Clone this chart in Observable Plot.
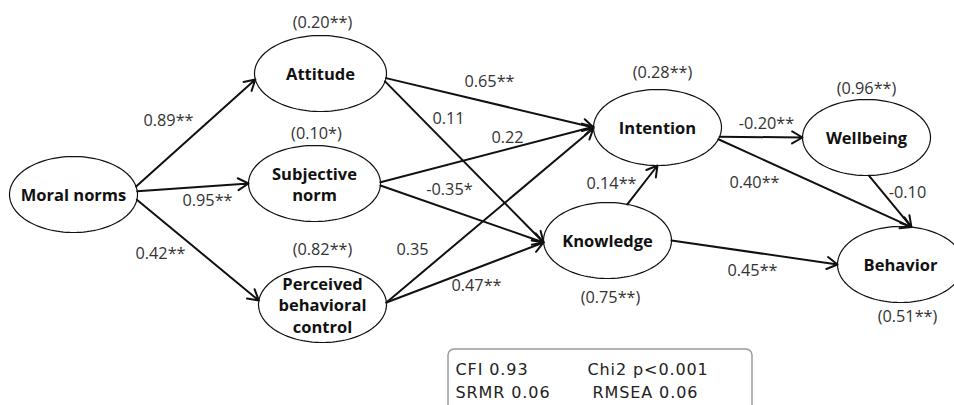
<!DOCTYPE html>
<html>
<head>
<meta charset="utf-8">
<script src="https://cdn.jsdelivr.net/npm/d3@7"></script>
<script src="https://cdn.jsdelivr.net/npm/@observablehq/plot@0.6"></script>
<style>
  html, body { margin: 0; padding: 0; background: #fff; }
  #chart svg { display: block; }
</style>
</head>
<body>
<div id="chart"></div>
<script>
// ---------------- DATA ----------------
const nodes = ["Moral norms", "Attitude", "Subjective norm", "Perceived behavioral control",
               "Intention", "Knowledge", "Wellbeing", "Behavior"];
const nodeLabels = ["Moral norms", "Attitude", "Subjective\nnorm", "Perceived\nbehavioral\ncontrol",
                    "Intention", "Knowledge", "Wellbeing", "Behavior"];
const r2Labels = ["", "(0.20**)", "(0.10*)", "(0.82**)", "(0.28**)", "(0.75**)", "(0.96**)", "(0.51**)"];

const pathFrom = ["Moral norms", "Moral norms", "Moral norms",
                  "Attitude", "Attitude", "Subjective norm", "Subjective norm",
                  "Perceived behavioral control", "Perceived behavioral control",
                  "Knowledge", "Intention", "Intention", "Wellbeing", "Knowledge"];
const pathTo = ["Attitude", "Subjective norm", "Perceived behavioral control",
                "Intention", "Knowledge", "Intention", "Knowledge",
                "Intention", "Knowledge",
                "Intention", "Wellbeing", "Behavior", "Behavior", "Behavior"];
const pathCoef = ["0.89**", "0.95**", "0.42**",
                  "0.65**", "0.11", "0.22", "-0.35*",
                  "0.35", "0.47**",
                  "0.14**", "-0.20**", "0.40**", "-0.10", "0.45**"];

const fitLabels = ["CFI 0.93", "Chi2 p<0.001", "SRMR 0.06", "RMSEA 0.06"];

// ---------------- LAYOUT (diagram geometry, pixels) ----------------
const nodeCenter = {
  "Moral norms": [73, 194, 64, 38],
  "Attitude": [320, 73, 66, 38],
  "Subjective norm": [314, 183, 66, 38],
  "Perceived behavioral control": [322, 304, 64, 38],
  "Intention": [657, 127, 64, 38],
  "Knowledge": [607, 240, 64, 38],
  "Wellbeing": [866, 137, 64, 38],
  "Behavior": [900, 264, 63, 38]
};
const r2Pos = [null, [322, 22], [316, 133], [322, 249], [662, 72], [610, 297], [866, 88], [907, 316]];
// anchor angles on the ellipses (degrees, y down) for start / end of each path
const pathPorts = [[-12, 171], [-5, 180], [8, 186],
                   [7, 180], [12, 177], [-2, 181], [3, 177],
                   [-3, 179], [-3, 177],
                   [-72, 90], [14, 180], [18, -80], [88, -80], [0, 180]];
const coefPos = [[168, 120], [207, 200], [160, 253],
                 [489, 81], [448, 118], [507, 137], [449, 189],
                 [412, 249], [476, 285],
                 [611, 183], [766, 123], [754, 182], [907, 192], [752, 270]];
const fitPos = [[455, 369], [587, 369], [455, 392], [592, 392]];
const fitBox = {x1: 448, x2: 752, y1: 349, y2: 420};

// ---------------- BUILD ----------------
function port(name, deg) {
  const [cx, cy, rx, ry] = nodeCenter[name];
  const a = deg * Math.PI / 180;
  return [cx + rx * Math.cos(a), cy + ry * Math.sin(a)];
}
const ellipsePts = [];
nodes.forEach(n => {
  const [cx, cy, rx, ry] = nodeCenter[n];
  for (let i = 0; i < 120; i++) {
    const a = i / 120 * 2 * Math.PI;
    ellipsePts.push({node: n, x: cx + rx * Math.cos(a), y: cy + ry * Math.sin(a)});
  }
});
const edges = pathFrom.map((f, i) => {
  const [x1, y1] = port(f, pathPorts[i][0]);
  const [x2, y2] = port(pathTo[i], pathPorts[i][1]);
  return {x1, y1, x2, y2, coef: pathCoef[i], lx: coefPos[i][0], ly: coefPos[i][1]};
});
const nodeTable = nodes.map((n, i) => ({name: n, label: nodeLabels[i],
  x: nodeCenter[n][0], y: nodeCenter[n][1]}));
const r2Table = nodes.map((n, i) => ({label: r2Labels[i], pos: r2Pos[i]})).filter(d => d.pos)
  .map(d => ({label: d.label, x: d.pos[0], y: d.pos[1]}));
const fitTable = fitLabels.map((t, i) => ({label: t, x: fitPos[i][0], y: fitPos[i][1]}));

const chart = Plot.plot({
  width: 954,
  height: 405,
  margin: 0,
  x: {domain: [0, 954], range: [0, 954], axis: null},
  y: {domain: [0, 405], range: [0, 405], axis: null},
  style: {background: "#fff"},
  marks: [
    Plot.rect([fitBox], {x1: "x1", x2: "x2", y1: "y1", y2: "y2", rx: 6, fill: "white", stroke: "#9a9a9a", strokeWidth: 1.5}),
    Plot.line(ellipsePts, {x: "x", y: "y", z: "node", curve: "linear-closed", stroke: "#111", strokeWidth: 1.2}),
    Plot.arrow(edges, {x1: "x1", y1: "y1", x2: "x2", y2: "y2", stroke: "#111", strokeWidth: 2, headLength: 9, headAngle: 60}),
    Plot.text(nodeTable, {x: "x", y: "y", text: "label", fontFamily: "Open Sans", fontWeight: 700, fontSize: 16.5, fill: "#111", lineHeight: 1.3}),
    Plot.text(r2Table, {x: "x", y: "y", text: "label", fontFamily: "Open Sans", fontSize: 16.3, fill: "#333"}),
    Plot.text(edges, {x: "lx", y: "ly", text: "coef", fontFamily: "Open Sans", fontSize: 16.3, fill: "#333"}),
    Plot.text(fitTable, {x: "x", y: "y", text: "label", textAnchor: "start", fontFamily: "DejaVu Sans", fontSize: 16, fill: "#222",
      render(index, scales, values, dimensions, context, next) {
        const g = next(index, scales, values, dimensions, context);
        d3.select(g).selectAll("text").style("letter-spacing", "0.9px");
        return g;
      }})
  ]
});
document.getElementById("chart").appendChild(chart);
</script>
</body>
</html>
